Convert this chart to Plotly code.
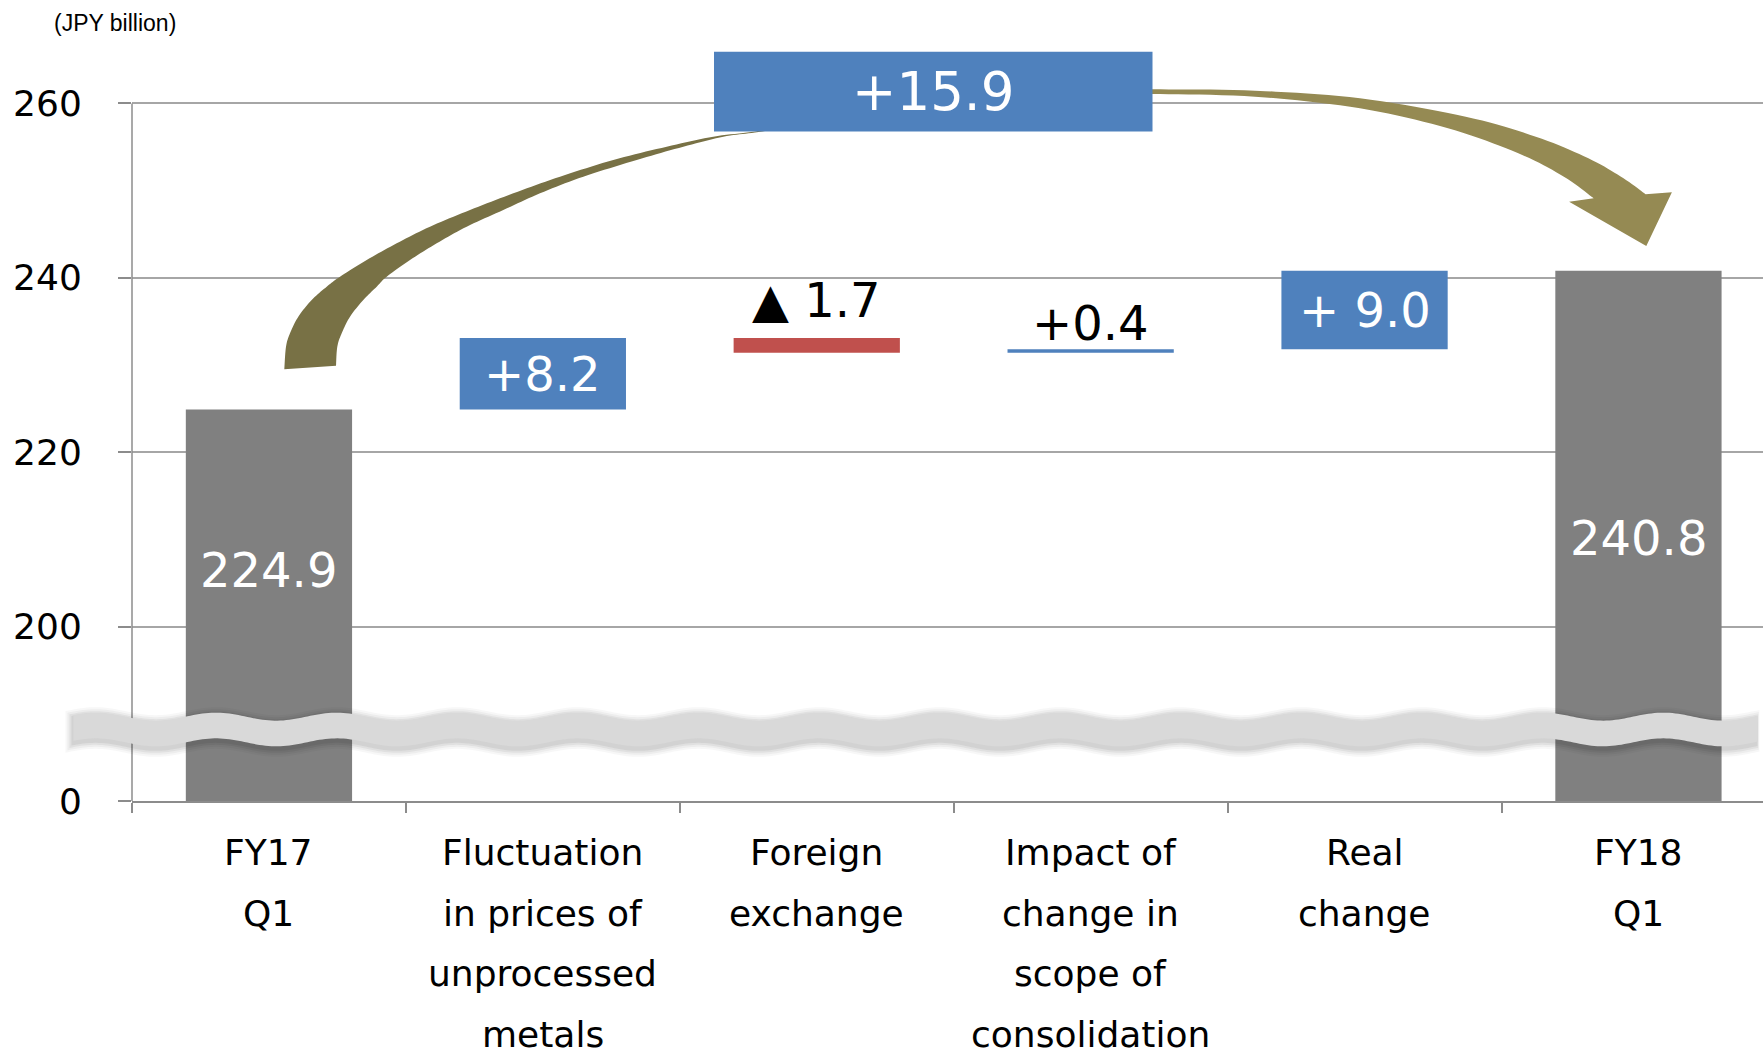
import math
import plotly.graph_objects as go

# ---------------- data ----------------
category_lines = [
    ["FY17", "Q1"],
    ["Fluctuation", "in prices of", "unprocessed", "metals"],
    ["Foreign", "exchange"],
    ["Impact of", "change in", "scope of", "consolidation"],
    ["Real", "change"],
    ["FY18", "Q1"],
]
start_value = 224.9
deltas = [8.2, -1.7, 0.4, 9.0]
end_value = 240.8
total_change = 15.9
value_labels = ["224.9", "+8.2", "▲ 1.7", "+0.4", "+ 9.0", "240.8"]
total_label = "+15.9"
axis_floor = 180  # broken axis: the "0" tick is drawn where 180 would be
y_tick_values = [180, 200, 220, 240, 260]
y_tick_labels = ["0", "200", "220", "240", "260"]
unit_label = "(JPY billion)"

# ---------------- layout constants ----------------
FIG_W, FIG_H = 1763, 1053
ML, MR, MT, MB = 132, 0, 10, 252
PLOT_W = FIG_W - ML - MR
PLOT_H = FIG_H - MT - MB
CAT_PX = 273.9
UNIT_PX = 8.72
X_RANGE = [-0.5, -0.5 + PLOT_W / CAT_PX]
Y_RANGE = [axis_floor, axis_floor + PLOT_H / UNIT_PX]

GRAY = "#808080"
BLUE = "#4F81BD"
RED = "#C0504D"
AXIS_C = "#8c8c8c"
GRID_C = "#a6a6a6"
FONT = "DejaVu Sans"


def px_x(px):
    return (px - ML) / PLOT_W


def px_y(py):
    return (FIG_H - MB - py) / PLOT_H


def dy(v):
    return (v - Y_RANGE[0]) / (Y_RANGE[1] - Y_RANGE[0])


def catmull(points, n=10):
    pts = [points[0]] + list(points) + [points[-1]]
    out = []
    for i in range(1, len(pts) - 2):
        p0, p1, p2, p3 = pts[i - 1], pts[i], pts[i + 1], pts[i + 2]
        for k in range(n):
            t = k / n
            t2, t3 = t * t, t * t * t
            c = []
            for d in range(2):
                c.append(0.5 * ((2 * p1[d]) + (-p0[d] + p2[d]) * t
                                + (2 * p0[d] - 5 * p1[d] + 4 * p2[d] - p3[d]) * t2
                                + (-p0[d] + 3 * p1[d] - 3 * p2[d] + p3[d]) * t3))
            out.append(tuple(c))
    out.append(points[-1])
    return out


def path_from_px(points):
    s = "M " + " L ".join(f"{px_x(x):.5f},{px_y(y):.5f}" for x, y in points) + " Z"
    return s


# ---------------- bars ----------------
xs = list(range(len(category_lines)))
bases, heights, colors = [], [], []
bases.append(axis_floor)
heights.append(start_value - axis_floor)
colors.append(GRAY)
cum = start_value
for d in deltas:
    bases.append(cum)
    heights.append(d)
    colors.append(BLUE if d >= 0 else RED)
    cum += d
bases.append(axis_floor)
heights.append(end_value - axis_floor)
colors.append(GRAY)

fig = go.Figure()
fig.add_trace(go.Bar(
    x=xs, y=heights, base=bases, width=0.607,
    marker=dict(color=colors, line=dict(width=0)),
    hoverinfo="skip", showlegend=False,
))

# ---------------- shapes ----------------
shapes = []
# y axis line (only up to 260)
shapes.append(dict(type="line", xref="paper", yref="paper", x0=0, x1=0,
                   y0=dy(axis_floor), y1=dy(260), line=dict(color=AXIS_C, width=1.5),
                   layer="above"))

# axis-break band
def band(x0, x1, top, bot, shift=0.0):
    xsamp = []
    x = x0
    while x < x1:
        xsamp.append(x)
        x += 3
    xsamp.append(x1)

    def off(x):
        return -4.0 * math.cos(2 * math.pi * (x - 216) / 120.6)
    upper = [(x, top + off(x) + shift) for x in xsamp]
    lower = [(x, bot + off(x) + shift) for x in reversed(xsamp)]
    return path_from_px(upper + lower)

for extra, alpha in [(8, 0.03), (6, 0.04), (4, 0.05), (2, 0.06)]:
    shapes.append(dict(type="path", xref="paper", yref="paper",
                       path=band(73.4 - extra, 1757 + extra * 0.3, 716.65 - extra, 742.35 + extra, shift=2.5),
                       fillcolor=f"rgba(0,0,0,{alpha})", line=dict(width=0), layer="above"))
shapes.append(dict(type="path", xref="paper", yref="paper",
                   path=band(73.4, 1757, 716.65, 742.35),
                   fillcolor="#D9D9D9", line=dict(width=0), layer="above"))

# curved arrow, left part
outer_l = [(284.3, 369.3), (286, 346.7), (290, 333.3), (298.3, 316.7), (311.7, 300),
           (326.7, 286.7), (340, 276.7), (366.7, 260), (396.7, 243.3), (430, 226.7),
           (470, 210), (513.3, 193.3), (560, 176.7), (613.3, 160), (666.7, 146.7),
           (713.3, 136.7), (755, 131.5), (790, 125)]
inner_l = [(336, 365.7), (337.3, 346.7), (341.7, 333.3), (350, 316.7), (363.3, 300),
           (376.7, 286.7), (386.7, 276.7), (410, 260), (436.7, 243.3), (466.7, 226.7),
           (503.3, 210), (540, 193.3), (583.3, 176.7), (636.7, 160), (683.3, 146.7),
           (723.3, 136.7), (755, 132.5), (790, 127)]
left_poly = catmull(outer_l) + list(reversed(catmull(inner_l)))
shapes.append(dict(type="path", xref="paper", yref="paper", path=path_from_px(left_poly),
                   fillcolor="#787145", line=dict(width=0), layer="above"))

# curved arrow, right part with head
top_r = [(1120, 89.5), (1152.8, 89.3), (1255, 90.7), (1360, 98.3), (1465.7, 116.7),
         (1535.8, 136.7), (1588.4, 158.3), (1623.5, 178.3), (1645.6, 194.3)]
head = [(1671.9, 192.3), (1646.3, 246), (1569.1, 201.7)]
bot_r = [(1593.7, 198.3), (1563.9, 176.7), (1518.3, 153.3), (1448, 128.3), (1360, 108.3),
         (1255, 96.7), (1152.8, 94), (1120, 94)]
right_poly = catmull(top_r) + head + catmull(bot_r)
shapes.append(dict(type="path", xref="paper", yref="paper", path=path_from_px(right_poly),
                   fillcolor="#958A53", line=dict(width=0), layer="above"))

# total-change box
shapes.append(dict(type="rect", xref="paper", yref="paper",
                   x0=px_x(714), x1=px_x(1152.5), y0=px_y(131.6), y1=px_y(51.7),
                   fillcolor=BLUE, line=dict(width=0), layer="above"))

# ---------------- annotations ----------------
ann = []
label_y = [206.5, None, 237.45, 234.85, None, 210.2]
label_color = ["white", "white", "black", "black", "white", "white"]
for i, txt in enumerate(value_labels):
    yv = label_y[i]
    if yv is None:
        yv = bases[i] + heights[i] / 2
    ann.append(dict(x=xs[i], y=yv, xref="x", yref="y", text=txt, showarrow=False,
                    xanchor="center", yanchor="middle",
                    font=dict(family=FONT, size=48, color=label_color[i])))

ann.append(dict(x=px_x((714 + 1152.5) / 2), y=px_y(92), xref="paper", yref="paper",
                text=total_label, showarrow=False, xanchor="center", yanchor="middle",
                font=dict(family=FONT, size=53, color="white")))

ann.append(dict(x=px_x(52), y=px_y(23), xref="paper", yref="paper", text=unit_label,
                showarrow=False, xanchor="left", yanchor="middle",
                font=dict(family="Liberation Sans", size=23, color="black")))

LINE0_PX, LINE_STEP = 852.5, 60.5
for i, lines in enumerate(category_lines):
    for j, line in enumerate(lines):
        ann.append(dict(x=xs[i], y=px_y(LINE0_PX + j * LINE_STEP), xref="x", yref="paper",
                        text=line, showarrow=False, xanchor="center", yanchor="middle",
                        font=dict(family=FONT, size=36, color="black")))

fig.update_layout(
    width=FIG_W, height=FIG_H,
    margin=dict(l=ML, r=MR, t=MT, b=MB, pad=0),
    plot_bgcolor="white", paper_bgcolor="white",
    showlegend=False, hovermode=False,
    shapes=shapes, annotations=ann,
    xaxis=dict(type="linear", range=X_RANGE, tickvals=[-0.5, 0.5, 1.5, 2.5, 3.5, 4.5],
               ticks="outside", ticklen=10, tickwidth=1.5, tickcolor=AXIS_C,
               showticklabels=False, showgrid=False, zeroline=False,
               showline=True, linecolor=AXIS_C, linewidth=1.5, fixedrange=True),
    yaxis=dict(range=Y_RANGE, tickvals=y_tick_values, ticktext=y_tick_labels,
               ticks="outside", ticklen=13, tickwidth=1.5, tickcolor=AXIS_C,
               ticklabelstandoff=29,
               tickfont=dict(family=FONT, size=36, color="black"),
               showgrid=True, gridcolor=GRID_C, gridwidth=1.5, zeroline=False,
               showline=False, fixedrange=True),
)

fig.write_html("out.html", config={"displayModeBar": False},
               post_script="document.body.style.margin='0px';document.body.style.overflow='hidden';")
